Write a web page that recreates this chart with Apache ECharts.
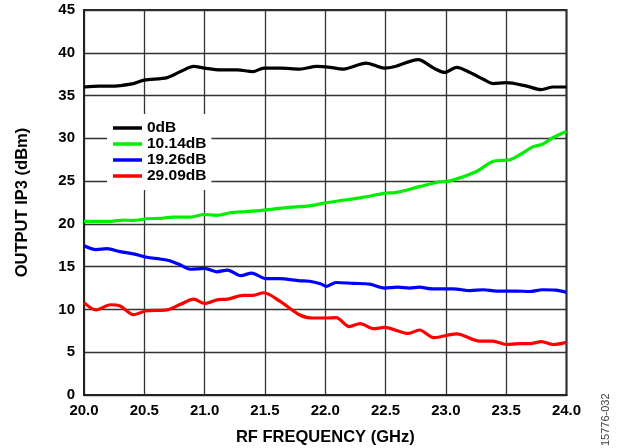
<!DOCTYPE html>
<html>
<head>
<meta charset="utf-8">
<script src="https://cdn.jsdelivr.net/npm/echarts@6/dist/echarts.min.js"></script>
<style>
  html, body { margin: 0; padding: 0; background: #fff; }
  #chart { width: 619px; height: 448px; }
</style>
</head>
<body>
<div id="chart"></div>
<script>
// Output IP3 versus RF frequency for four attenuation states
const seriesNames = ['0dB', '10.14dB', '19.26dB', '29.09dB'];
const seriesColors = ['#000000', '#00ee00', '#0000ff', '#ff0000'];

const freq0dB = [20.0, 20.13, 20.22, 20.41, 20.5, 20.69, 20.8, 20.91, 21.0, 21.13, 21.27, 21.4, 21.49, 21.63, 21.79, 21.93, 22.04, 22.15, 22.34, 22.49, 22.58, 22.77, 22.9, 22.99, 23.09, 23.2, 23.31, 23.39, 23.5, 23.67, 23.79, 23.89, 24.0];
const ip3_0dB  = [36.0, 36.1, 36.1, 36.4, 36.8, 37.1, 37.8, 38.4, 38.2, 38.0, 38.0, 37.8, 38.2, 38.2, 38.1, 38.4, 38.3, 38.1, 38.8, 38.2, 38.4, 39.2, 38.2, 37.7, 38.3, 37.7, 36.9, 36.4, 36.5, 36.1, 35.7, 36.0, 36.0];

const freq10dB = [20.0, 20.22, 20.33, 20.41, 20.52, 20.63, 20.74, 20.88, 21.0, 21.1, 21.21, 21.35, 21.49, 21.68, 21.87, 22.0, 22.12, 22.31, 22.5, 22.58, 22.78, 22.94, 23.03, 23.25, 23.39, 23.53, 23.61, 23.72, 23.8, 23.89, 24.0];
const ip3_10dB = [20.3, 20.3, 20.45, 20.4, 20.6, 20.65, 20.8, 20.8, 21.1, 21.0, 21.3, 21.45, 21.6, 21.9, 22.1, 22.45, 22.7, 23.1, 23.6, 23.65, 24.35, 24.9, 25.0, 26.1, 27.3, 27.5, 28.05, 29.0, 29.3, 30.1, 30.8];

const freq19dB = [20.0, 20.1, 20.19, 20.3, 20.41, 20.52, 20.63, 20.71, 20.8, 20.88, 21.0, 21.1, 21.19, 21.3, 21.39, 21.51, 21.62, 21.79, 21.87, 21.96, 22.01, 22.09, 22.23, 22.37, 22.49, 22.6, 22.7, 22.78, 22.89, 23.06, 23.2, 23.31, 23.42, 23.58, 23.7, 23.8, 23.91, 24.0];
const ip3_19dB = [17.45, 17.0, 17.1, 16.75, 16.5, 16.1, 15.9, 15.7, 15.2, 14.7, 14.8, 14.4, 14.6, 13.95, 14.25, 13.6, 13.6, 13.35, 13.3, 13.0, 12.7, 13.15, 13.05, 12.95, 12.5, 12.6, 12.5, 12.6, 12.4, 12.4, 12.2, 12.3, 12.15, 12.15, 12.1, 12.3, 12.25, 12.0];

const freq29dB = [20.0, 20.1, 20.22, 20.3, 20.41, 20.52, 20.69, 20.8, 20.91, 21.0, 21.11, 21.19, 21.32, 21.4, 21.49, 21.62, 21.79, 21.9, 22.0, 22.09, 22.2, 22.29, 22.4, 22.49, 22.69, 22.78, 22.9, 23.09, 23.28, 23.39, 23.5, 23.61, 23.7, 23.79, 23.89, 24.0];
const ip3_29dB = [10.8, 9.95, 10.55, 10.4, 9.4, 9.85, 9.95, 10.6, 11.2, 10.7, 11.15, 11.2, 11.65, 11.65, 11.95, 11.0, 9.35, 9.0, 9.0, 9.05, 8.0, 8.35, 7.75, 7.9, 7.2, 7.6, 6.7, 7.15, 6.3, 6.3, 5.9, 6.0, 6.0, 6.25, 5.9, 6.15];

const xTicks = [20.0, 20.5, 21.0, 21.5, 22.0, 22.5, 23.0, 23.5, 24.0];
const yTicks = [0, 5, 10, 15, 20, 25, 30, 35, 40, 45];

const allFreq = [freq0dB, freq10dB, freq19dB, freq29dB];
const allIp3 = [ip3_0dB, ip3_10dB, ip3_19dB, ip3_29dB];

const font = '"Liberation Sans", Arial, sans-serif';

const chart = echarts.init(document.getElementById('chart'), null, { renderer: 'canvas' });

const series = seriesNames.map((name, i) => ({
  name: name,
  type: 'line',
  data: allFreq[i].map((f, k) => [f, allIp3[i][k]]),
  smooth: 0.3,
  showSymbol: false,
  symbol: 'none',
  lineStyle: { color: seriesColors[i], width: 3.2 },
  itemStyle: { color: seriesColors[i] },
  z: 5 - i
}));

chart.setOption({
  animation: false,
  backgroundColor: '#fff',
  grid: {
    left: 84, right: 52.5, top: 10, bottom: 53,
    containLabel: false,
    outerBoundsMode: 'none',
    show: true, borderColor: '#222', borderWidth: 2, backgroundColor: 'transparent'
  },
  legend: {
    data: seriesNames,
    orient: 'vertical',
    left: 107, top: 114,
    backgroundColor: '#fff',
    padding: [6, 5, 6, 6],
    itemGap: 0,
    itemWidth: 29,
    itemHeight: 3.5,
    icon: 'rect',
    textStyle: { fontFamily: font, fontWeight: 'bold', fontSize: 15.5, color: '#000', lineHeight: 15.3 },
    z: 10
  },
  xAxis: {
    type: 'value',
    min: 20, max: 24, interval: 0.5,
    name: 'RF FREQUENCY (GHz)',
    nameLocation: 'middle',
    nameGap: 34,
    nameTextStyle: { fontFamily: font, fontWeight: 'bold', fontSize: 16.5, color: '#000' },
    axisLine: { show: true, lineStyle: { color: '#222', width: 2 } },
    axisTick: { show: false },
    axisLabel: {
      fontFamily: font, fontWeight: 'bold', fontSize: 15, color: '#000', margin: 8,
      formatter: v => { const t = xTicks.find(x => Math.abs(x - v) < 1e-6); return t !== undefined ? t.toFixed(1) : ''; }
    },
    splitLine: { show: true, lineStyle: { color: '#333', width: 1.3 } }
  },
  yAxis: {
    type: 'value',
    min: 0, max: 45, interval: 5,
    name: 'OUTPUT IP3 (dBm)',
    nameLocation: 'middle',
    nameGap: 53,
    nameTextStyle: { fontFamily: font, fontWeight: 'bold', fontSize: 16.5, color: '#000' },
    axisLine: { show: true, lineStyle: { color: '#222', width: 2 } },
    axisTick: { show: false },
    axisLabel: {
      fontFamily: font, fontWeight: 'bold', fontSize: 15, color: '#000', margin: 9,
      formatter: v => { const t = yTicks.find(y => Math.abs(y - v) < 1e-6); return t !== undefined ? String(t) : ''; }
    },
    splitLine: { show: true, lineStyle: { color: '#333', width: 1.3 } }
  },
  graphic: [{
    type: 'text',
    x: 611, y: 446,
    rotation: Math.PI / 2,
    style: { text: '15776-032', fontFamily: font, fontSize: 11, fill: '#444', textAlign: 'left', textVerticalAlign: 'bottom' }
  }],
  series: series
});
</script>
</body>
</html>
